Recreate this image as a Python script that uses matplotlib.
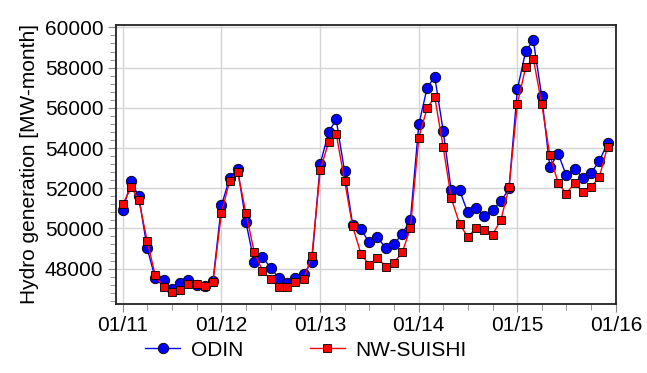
"""Monthly hydro generation: ODIN vs NW-SUISHI, 2011-2015."""

import matplotlib
matplotlib.use("Agg")
import matplotlib.pyplot as plt
import matplotlib.dates as mdates
from matplotlib.ticker import MultipleLocator
import pandas as pd

plt.rcParams.update({
    "font.family": ["Liberation Sans", "DejaVu Sans"],
    "font.size": 15,
})

months = pd.date_range("2011-01-01", periods=60, freq="MS")

odin = [
    50930, 52340, 51590, 49020, 47520, 47440, 46990, 47300, 47440, 47190, 47140, 47400,
    51140, 52510, 52970, 50300, 48350, 48570, 48050, 47520, 47300, 47520, 47740, 48350,
    53210, 54790, 55420, 52840, 50180, 49970, 49300, 49550, 49020, 49220, 49730, 50430,
    55170, 57000, 57550, 54870, 51890, 51890, 50810, 51010, 50600, 50930, 51340, 51990,
    56920, 58830, 59360, 56580, 53060, 53710, 52640, 52960, 52510, 52760, 53370, 54260,
]
suishi = [
    51210, 52040, 51430, 49380, 47670, 47070, 46820, 46940, 47240, 47240, 47140, 47350,
    50760, 52380, 52800, 50760, 48850, 47900, 47470, 47070, 47070, 47350, 47470, 48630,
    52910, 54290, 54720, 52380, 50100, 48730, 48190, 48520, 48100, 48300, 48820, 50020,
    54510, 56000, 56530, 54070, 51510, 50230, 49570, 50020, 49930, 49680, 50430, 52040,
    56200, 58030, 58450, 56200, 53660, 52260, 51730, 52260, 51810, 52040, 52580, 54070,
]

fig = plt.figure(figsize=(6.47, 3.73), dpi=100)
ax = fig.add_axes([0.179, 0.185, 0.773, 0.748])

ax.plot(months, odin, "-o", color="blue", lw=1.0, ms=7.5,
        mfc="blue", mec="black", mew=0.6, label="ODIN", zorder=3)
ax.plot(months, suishi, "-s", color="red", lw=1.0, ms=6,
        mfc="red", mec="black", mew=0.6, label="NW-SUISHI", zorder=4)

ax.set_xlim(pd.Timestamp("2010-12-06"), pd.Timestamp("2016-01-01"))
ax.set_ylim(46240, 60120)

ax.xaxis.set_major_locator(mdates.YearLocator())
ax.xaxis.set_minor_locator(mdates.MonthLocator(bymonth=[4, 7, 10]))
ax.xaxis.set_major_formatter(mdates.DateFormatter("%m/%y"))
ax.yaxis.set_major_locator(MultipleLocator(2000))
ax.yaxis.set_minor_locator(MultipleLocator(400))

ax.grid(True, which="major", color="#d4d4d4", lw=1.0)
ax.set_axisbelow(True)
ax.tick_params(which="major", direction="out", length=6, color="#888888", pad=3)
ax.tick_params(which="minor", direction="out", length=4, color="#888888")
for s in ax.spines.values():
    s.set_color("#222222")
    s.set_linewidth(1.3)

ax.set_ylabel("Hydro generation [MW-month]", labelpad=4)

ax.legend(loc="center", bbox_to_anchor=(0.38, -0.165), ncol=2,
          frameon=False, columnspacing=3.2, handlelength=1.7, handletextpad=0.5,
          borderpad=0.1)

fig.savefig("out.png", dpi=100)
